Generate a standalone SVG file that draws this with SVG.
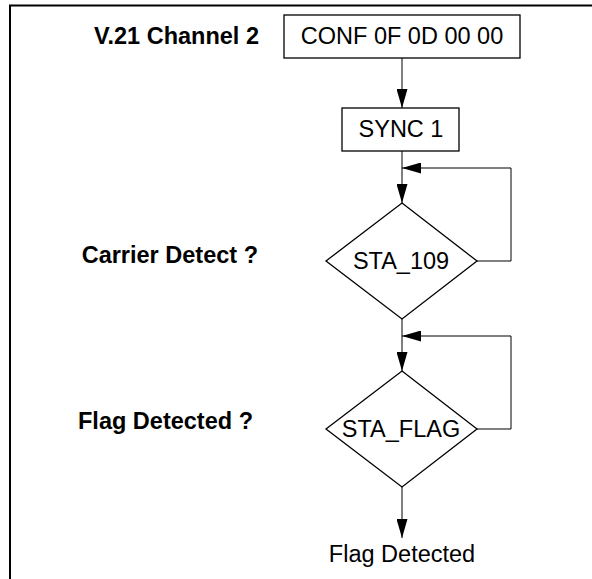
<svg xmlns="http://www.w3.org/2000/svg" width="592" height="579" viewBox="0 0 592 579">
<defs>
<marker id="ah" viewBox="0 0 19 11" refX="19" refY="5.5" markerWidth="19" markerHeight="11" markerUnits="userSpaceOnUse" orient="auto">
<path d="M0,0 L19,5.5 L0,11 Z" fill="#000"/>
</marker>
</defs>
<style>
.box{fill:#fff;stroke:#000;stroke-width:1.3}
.ln{fill:none;stroke:#000;stroke-width:1}
.t{font-family:"Liberation Sans",Arial,sans-serif;font-size:23.5px;fill:#000;text-anchor:middle}
.lb{font-family:"Liberation Sans",Arial,sans-serif;font-size:23.5px;font-weight:bold;fill:#000;text-anchor:end}
</style>
<rect width="592" height="579" fill="#fff"/>
<g id="frame">
<path d="M10,579 V5.5 H592" fill="none" stroke="#000" stroke-width="2"/>
</g>
<g id="connectors">
<path class="ln" d="M402,58 V108" marker-end="url(#ah)"/>
<path class="ln" d="M402,151 V203" marker-end="url(#ah)"/>
<path class="ln" d="M477,261 H511 V168 H402" marker-end="url(#ah)"/>
<path class="ln" d="M402,319 V371" marker-end="url(#ah)"/>
<path class="ln" d="M477,429 H511 V336 H402" marker-end="url(#ah)"/>
<path class="ln" d="M402,487 V538" marker-end="url(#ah)"/>
</g>
<g id="conf">
<rect class="box" x="284" y="15" width="236" height="43"/>
<text class="t" x="402" y="44">CONF 0F 0D 00 00</text>
</g>
<g id="sync">
<rect class="box" x="342" y="108" width="117" height="43"/>
<text class="t" x="401" y="137">SYNC 1</text>
</g>
<g id="sta109">
<polygon class="box" points="402,203 477,261 402,319 326,261"/>
<text class="t" x="401" y="269">STA_109</text>
</g>
<g id="staflag">
<polygon class="box" points="402,371 477,429 402,487 326,429"/>
<text class="t" x="401" y="437">STA_FLAG</text>
</g>
<g id="end">
<text class="t" x="402" y="562">Flag Detected</text>
</g>
<g id="labels">
<text class="lb" x="259" y="44">V.21 Channel 2</text>
<text class="lb" x="258" y="263">Carrier Detect ?</text>
<text class="lb" x="253" y="429">Flag Detected ?</text>
</g>
</svg>
